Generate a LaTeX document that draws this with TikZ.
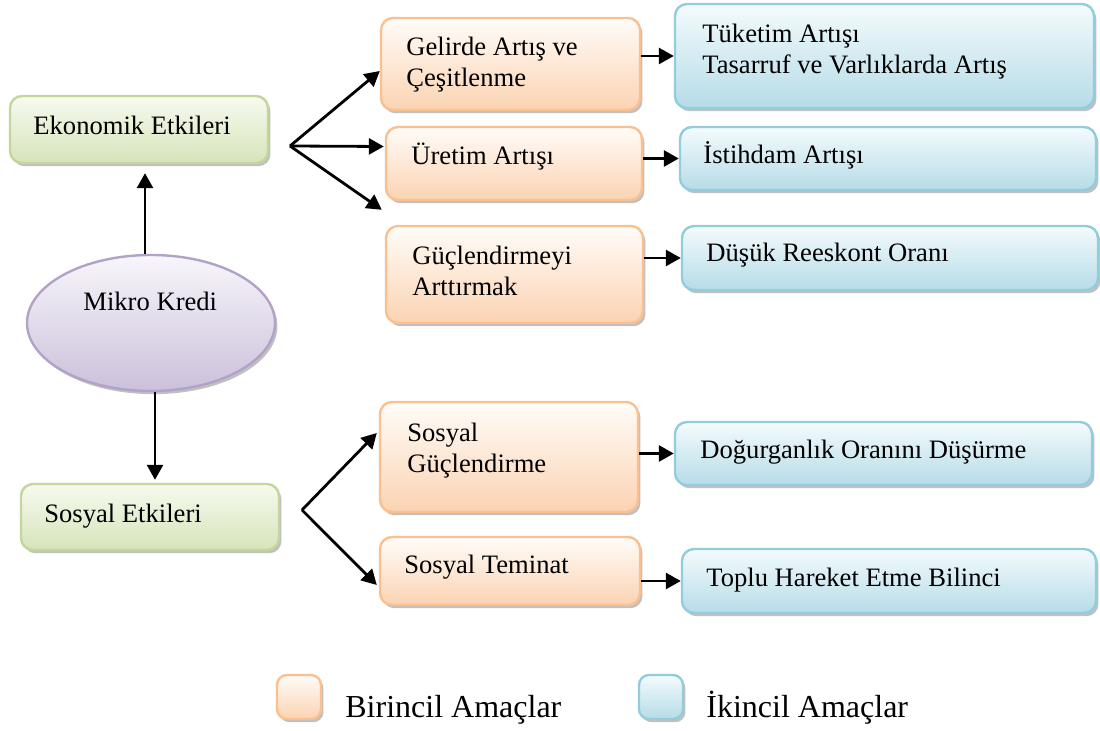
\documentclass[tikz,border=0pt]{standalone}
\usepackage{fontspec}
\setmainfont{Liberation Serif}
\usetikzlibrary{arrows.meta,shadows,shapes.geometric,positioning}

\definecolor{grnB}{HTML}{C3D69B}
\definecolor{grnT}{HTML}{F6FAEF}
\definecolor{grnD}{HTML}{D6E4BA}
\definecolor{orgB}{HTML}{FAC090}
\definecolor{orgT}{HTML}{FFFCF9}
\definecolor{orgD}{HTML}{FBD3B2}
\definecolor{bluB}{HTML}{93CDDD}
\definecolor{bluT}{HTML}{F4FBFD}
\definecolor{bluD}{HTML}{B6DCE7}
\definecolor{prpB}{HTML}{B3A2C7}
\definecolor{prpT}{HTML}{F8F6FB}
\definecolor{prpD}{HTML}{CBC0DA}

\begin{document}
\begin{tikzpicture}[x=0.5pt,y=-0.5pt]
\tikzset{
  box/.style={rounded corners=6pt,line width=1.2pt,inner sep=0pt,
    drop shadow={shadow xshift=1.2pt,shadow yshift=-1.6pt,fill=black!45,opacity=.55}},
  ecobox/.style={box,draw=grnB,top color=grnT,bottom color=grnD},
  firstbox/.style={box,draw=orgB,top color=orgT,bottom color=orgD},
  secondbox/.style={box,draw=bluB,top color=bluT,bottom color=bluD},
  tx/.style={anchor=base west,inner sep=0pt,align=left,font=\fontsize{13.3}{15.5}\selectfont},
  legtx/.style={anchor=base west,inner sep=0pt,font=\fontsize{16}{19}\selectfont},
  arr/.style={-{Triangle[length=7.5pt,width=8pt]},line width=1.4pt}
}
\useasboundingbox (0,0) rectangle (1100,731);

% left column
\node[ellipse,line width=1.2pt,draw=prpB,top color=prpT,bottom color=prpD,
  drop shadow={shadow xshift=1.2pt,shadow yshift=-1.6pt,fill=black!45,opacity=.55},
  minimum width=124pt,minimum height=68pt] (mikro) at (151,323) {};
\node[ecobox,minimum width=129pt,minimum height=33.5pt] (eko) at (139,129.5) {};
\node[ecobox,minimum width=129pt,minimum height=33pt] (sosyal) at (150,517) {};

% primary aims
\node[firstbox,minimum width=129.5pt,minimum height=46pt] (gelir) at (510.5,64) {};
\node[firstbox,minimum width=128pt,minimum height=36.5pt] (uretim) at (514,163.5) {};
\node[firstbox,minimum width=128.5pt,minimum height=48.5pt] (guc) at (514.5,274.5) {};
\node[firstbox,minimum width=129pt,minimum height=55pt] (sosg) at (509,457) {};
\node[firstbox,minimum width=130pt,minimum height=34pt] (sost) at (510,571) {};

% secondary aims
\node[secondbox,minimum width=209.5pt,minimum height=52pt] (tuk) at (884.5,56) {};
\node[secondbox,minimum width=208pt,minimum height=31.5pt] (istih) at (888,158.5) {};
\node[secondbox,minimum width=208pt,minimum height=32pt] (dusuk) at (890,258) {};
\node[secondbox,minimum width=208.5pt,minimum height=31.5pt] (dogur) at (883.5,453.5) {};
\node[secondbox,minimum width=207pt,minimum height=32pt] (toplu) at (889,581) {};

% legend
\node[firstbox,minimum width=22pt,minimum height=22pt,rounded corners=5pt] (leg1) at (299,697) {};
\node[secondbox,minimum width=22pt,minimum height=22pt,rounded corners=5pt] (leg2) at (661,697) {};

% texts (base = last line)
\node[tx] (ekoT) at (33,135) {Ekonomik Etkileri};
\node[tx] (mikroT) at (83,311) {Mikro Kredi};
\node[tx] (sosT) at (44,523) {Sosyal Etkileri};
\node[tx] (gelirT) at (406,87) {Gelirde Artış ve\\Çeşitlenme};
\node[tx] (uretimT) at (411,165) {Üretim Artışı};
\node[tx] (gucT) at (412,296) {Güçlendirmeyi\\Arttırmak};
\node[tx] (sosgT) at (407,473) {Sosyal\\Güçlendirme};
\node[tx] (sostT) at (404,574) {Sosyal Teminat};
\node[tx] (tukT) at (702,74) {Tüketim Artışı\\Tasarruf ve Varlıklarda Artış};
\node[tx] (istT) at (703,164) {İstihdam Artışı};
\node[tx] (dusT) at (706,262) {Düşük Reeskont Oranı};
\node[tx] (dogT) at (700,459) {Doğurganlık Oranını Düşürme};
\node[tx] (topT) at (706,587) {Toplu Hareket Etme Bilinci};
\node[legtx] (leg1T) at (345,718) {Birincil Amaçlar};
\node[legtx] (leg2T) at (706,718) {İkincil Amaçlar};

% arrows
\coordinate (ekofork) at (290,146);
\coordinate (sosfork) at (302,510);
\draw[arr] ([xshift=-3pt]mikro.north) -- ([xshift=3pt,yshift=-4.5pt]eko.south);
\draw[arr] ([xshift=2pt]mikro.south) -- ([xshift=2.5pt,yshift=1.5pt]sosyal.north);
\draw[arr] (ekofork) -- ([yshift=-3.5pt]gelir.west);
\draw[arr] (ekofork) -- ([xshift=-0.5pt,yshift=8.5pt]uretim.west);
\draw[arr] (ekofork) -- ([xshift=-1.5pt,yshift=7.5pt]guc.north west);
\draw[arr] (sosfork) -- ([xshift=-1pt,yshift=12pt]sosg.west);
\draw[arr] (sosfork) -- ([xshift=-1pt,yshift=-7pt]sost.west);
\draw[arr] (gelir.east |- tuk.west) -- (tuk.west);
\draw[arr] (uretim.east |- istih.west) -- (istih.west);
\draw[arr] (guc.east |- dusuk.west) -- (dusuk.west);
\draw[arr] (sosg.east |- dogur.west) -- (dogur.west);
\draw[arr] (sost.east |- toplu.west) -- (toplu.west);
\end{tikzpicture}
\end{document}
